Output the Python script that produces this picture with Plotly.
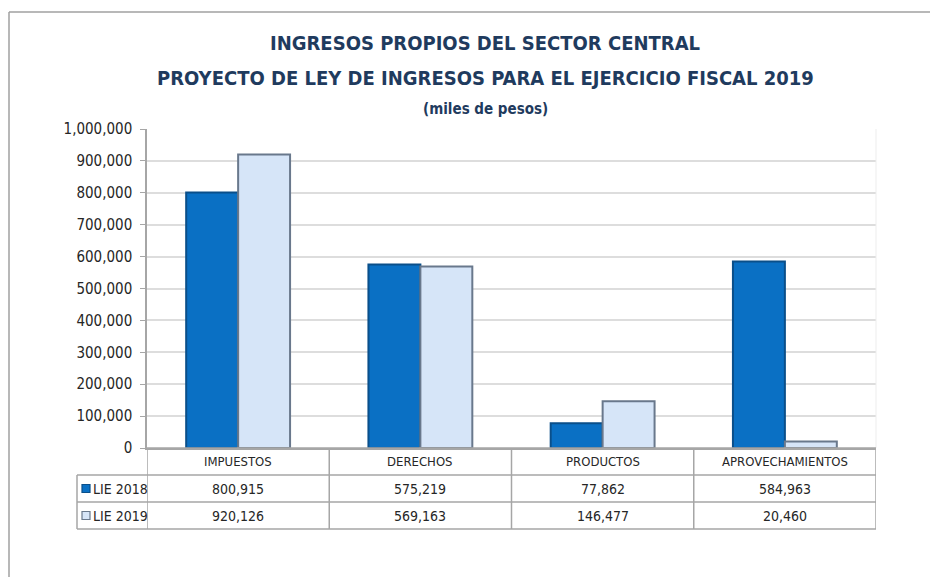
import plotly.graph_objects as go

categories = ["IMPUESTOS", "DERECHOS", "PRODUCTOS", "APROVECHAMIENTOS"]
series_names = ["LIE 2018", "LIE 2019"]
lie_2018 = [800915, 575219, 77862, 584963]
lie_2019 = [920126, 569163, 146477, 20460]
y_ticks = [0, 100000, 200000, 300000, 400000, 500000, 600000, 700000, 800000, 900000, 1000000]
title_lines = ["INGRESOS PROPIOS DEL SECTOR CENTRAL",
               "PROYECTO DE LEY DE INGRESOS PARA EL EJERCICIO FISCAL 2019",
               "(miles de pesos)"]

# page geometry (the html body has an 8px margin)
OFF = 8
W, H = 938, 577
L, R, T, B = 147, 876, 129, 448
PW, PH = R - L, B - T


def X(px):
    return (px - L) / PW


def Y(py):
    return (B - py) / PH


FONT = "DejaVu Sans Condensed, Liberation Sans Narrow, sans-serif"
TXT = "#262626"
GRID = "#DDDDDD"
TBL = "#A6A6A6"
C18 = "#0A70C4"
C19 = "#D6E5F8"
E18 = "#0A4F8A"
E19 = "#69788C"

fig = go.Figure()
fig.add_trace(go.Bar(x=categories, y=lie_2018, name=series_names[0],
                     marker=dict(color=C18, line=dict(color=E18, width=2))))
fig.add_trace(go.Bar(x=categories, y=lie_2019, name=series_names[1],
                     marker=dict(color=C19, line=dict(color=E19, width=2))))

shapes = []
annotations = []

# outer frame
shapes.append(dict(type="line", xref="paper", yref="paper", x0=X(9), x1=X(W + 5), y0=Y(12), y1=Y(12),
                   line=dict(color="#A0A0A0", width=1.5)))
shapes.append(dict(type="line", xref="paper", yref="paper", x0=X(9), x1=X(9), y0=Y(12), y1=Y(H + 5),
                   line=dict(color="#A0A0A0", width=1.5)))
# faint plot border (right)
shapes.append(dict(type="line", xref="paper", yref="paper", x0=1, x1=1, y0=0, y1=1,
                   line=dict(color="#EDEDED", width=1)))

# table geometry
rows_py = [448, 475, 502, 529]
leg_left = 77
shapes.append(dict(type="line", xref="paper", yref="paper", x0=0, x1=1, y0=Y(rows_py[0]), y1=Y(rows_py[0]),
                   line=dict(color=TBL, width=1.5)))
for py in rows_py[1:]:
    shapes.append(dict(type="line", xref="paper", yref="paper", x0=X(leg_left), x1=1, y0=Y(py), y1=Y(py),
                       line=dict(color=TBL, width=1.5)))
shapes.append(dict(type="line", xref="paper", yref="paper", x0=X(leg_left), x1=X(leg_left),
                   y0=Y(rows_py[1]), y1=Y(rows_py[3]), line=dict(color=TBL, width=1.5)))
for i in range(len(categories) + 1):
    shapes.append(dict(type="line", xref="x", yref="paper", x0=i - 0.5, x1=i - 0.5,
                       y0=Y(rows_py[0]), y1=Y(rows_py[3]), line=dict(color=TBL, width=1.5)))

for i, c in enumerate(categories):
    annotations.append(dict(x=i, y=Y((rows_py[0] + rows_py[1]) / 2), xref="x", yref="paper", text=c,
                            xanchor="center", yanchor="middle", showarrow=False,
                            font=dict(family=FONT, size=13, color=TXT)))
    for r, vals in enumerate([lie_2018, lie_2019]):
        annotations.append(dict(x=i, y=Y((rows_py[r + 1] + rows_py[r + 2]) / 2), xref="x", yref="paper",
                                text=f"{vals[i]:,}", xanchor="center", yanchor="middle", showarrow=False,
                                font=dict(family=FONT, size=14, color=TXT)))

# legend keys in table
for r, (nm, col, lc) in enumerate([(series_names[0], C18, E18), (series_names[1], C19, E19)]):
    cy = (rows_py[r + 1] + rows_py[r + 2]) / 2
    shapes.append(dict(type="rect", xref="paper", yref="paper", x0=X(82), x1=X(90), y0=Y(cy - 4), y1=Y(cy + 4),
                       fillcolor=col, line=dict(color=lc, width=1.2)))
    annotations.append(dict(x=X(91), y=Y(cy), xref="paper", yref="paper", text=nm, xanchor="left",
                            yanchor="middle", showarrow=False, font=dict(family=FONT, size=14, color=TXT)))

# titles
title_y = [43, 78, 109]
title_sz = [20, 20, 15]
for t, py, sz in zip(title_lines, title_y, title_sz):
    annotations.append(dict(x=X(485), y=Y(py), xref="paper", yref="paper", text=f"<b>{t}</b>",
                            xanchor="center", yanchor="middle", showarrow=False,
                            font=dict(family=FONT, size=sz, color="#1F3B5E")))

fig.update_layout(
    width=W - OFF, height=H - OFF,
    margin=dict(l=L - OFF, r=W - R, t=T - OFF, b=H - B, pad=0),
    paper_bgcolor="white", plot_bgcolor="white",
    barmode="group", bargap=0.43, bargroupgap=0,
    showlegend=False,
    shapes=shapes, annotations=annotations,
    xaxis=dict(showticklabels=False, showgrid=False, showline=True, linecolor=TBL, linewidth=1.5,
               ticks="", zeroline=False, range=[-0.5, len(categories) - 0.5]),
    yaxis=dict(range=[0, 1000000], tickvals=y_ticks, tickformat=",d", showgrid=True, gridcolor=GRID,
               gridwidth=1.5, showline=True, linecolor=TBL, linewidth=1.5, ticks="outside", ticklen=5,
               tickcolor=TBL, zeroline=False, tickfont=dict(family=FONT, size=15, color=TXT),
               ticklabelstandoff=5),
)

fig.write_html("out.html")
